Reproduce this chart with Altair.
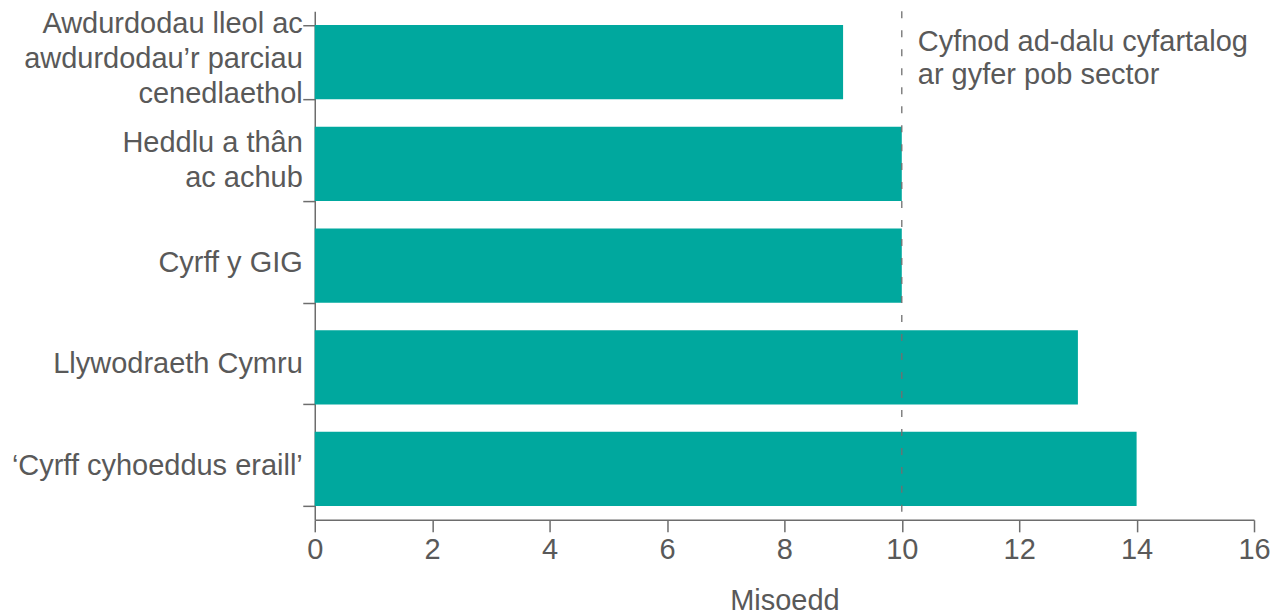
import altair as alt
import pandas as pd

categories = [
    "Awdurdodau lleol ac\nawdurdodau’r parciau\ncenedlaethol",
    "Heddlu a thân\nac achub",
    "Cyrff y GIG",
    "Llywodraeth Cymru",
    "‘Cyrff cyhoeddus eraill’",
]
months = [9, 10, 10, 13, 14]
average = [10]
note = ["Cyfnod ad-dalu cyfartalog", "ar gyfer pob sector"]
x_ticks = [0, 2, 4, 6, 8, 10, 12, 14, 16]

FONT = "Liberation Sans"
FS = 29
LH = 35
TXT = "#595959"
AX = "#6d6d6d"

df = pd.DataFrame({"cat": categories, "val": months})
avg_df = pd.DataFrame({"avg": average, "cat": [categories[0]], "note": [note]})

# one row per label line, with its line slot relative to the band centre
rows = []
for c in categories:
    parts = c.split("\n")
    n = len(parts)
    for i, p in enumerate(parts):
        rows.append({"cat": c, "line": p, "slot": i - (n - 1) / 2, "zero": 0})
lab_df = pd.DataFrame(rows)

ysc = alt.Scale(domain=categories, paddingInner=0.27, paddingOuter=0.135)
xsc = alt.Scale(domain=[0, 16], nice=False)

bars = alt.Chart(df).mark_bar(color="#00a89e").encode(
    x=alt.X("val:Q", scale=xsc, title="Misoedd",
            axis=alt.Axis(values=x_ticks, format="d", grid=False, tickSize=12,
                          labelFlush=False, labelPadding=4, titlePadding=22)),
    y=alt.Y("cat:N", scale=ysc, sort=categories, title=None,
            axis=alt.Axis(tickBand="extent", tickSize=12, labels=False, grid=False)),
)

label_layers = []
for s in sorted(lab_df["slot"].unique()):
    label_layers.append(
        alt.Chart(lab_df).transform_filter(f"datum.slot == {s}").mark_text(
            align="right", baseline="middle", dx=-12, dy=s * LH - 3,
            font=FONT, fontSize=FS, color=TXT,
        ).encode(
            x=alt.X("zero:Q", scale=xsc),
            y=alt.Y("cat:N", scale=ysc, sort=categories),
            text="line:N",
        )
    )

rule = alt.Chart(avg_df).mark_rule(color="#707070", strokeDash=[7, 12], strokeWidth=1.3).encode(
    x=alt.X("avg:Q", scale=xsc),
)

text = alt.Chart(avg_df).mark_text(
    align="left", baseline="middle", dx=16, dy=-20, font=FONT, fontSize=FS,
    color=TXT, lineHeight=33,
).encode(
    x=alt.X("avg:Q", scale=xsc),
    y=alt.Y("cat:N", scale=ysc, sort=categories),
    text="note",
)

chart = alt.layer(bars, rule, text, *label_layers).properties(
    width=940, height=509,
    padding={"left": 3, "top": 1, "right": 0, "bottom": 0},
).configure_view(
    stroke=None
).configure_axis(
    labelFont=FONT, titleFont=FONT, labelFontSize=FS, titleFontSize=FS,
    labelColor=TXT, titleColor=TXT, titleFontWeight="normal",
    domainColor=AX, tickColor=AX, domainWidth=1.5, tickWidth=1.5,
)

chart.save("out.html", embed_options={"renderer": "svg", "actions": False})
